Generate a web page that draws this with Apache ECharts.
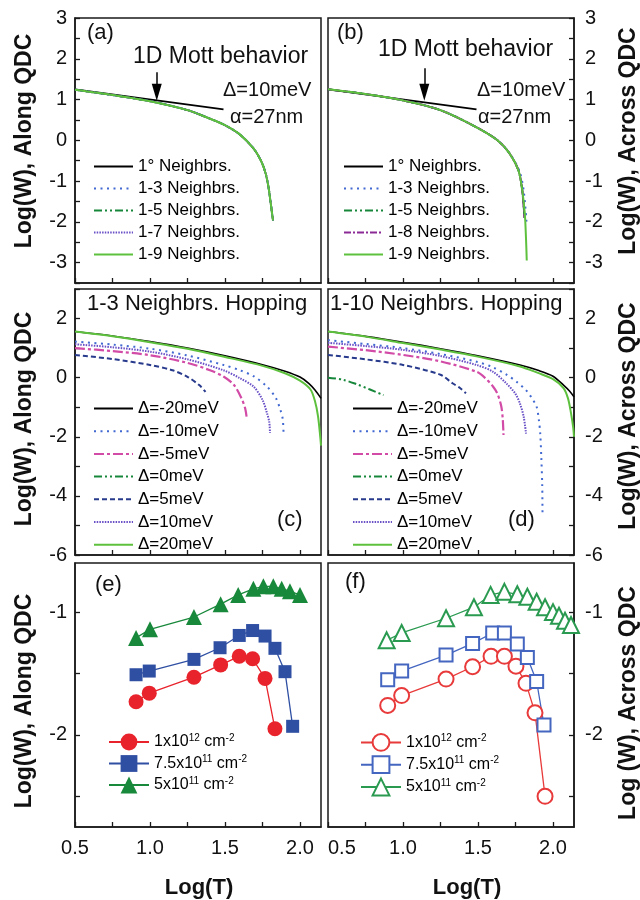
<!DOCTYPE html>
<html><head><meta charset="utf-8">
<script src="https://cdn.jsdelivr.net/npm/echarts@6/dist/echarts.min.js"></script>
<style>html,body{margin:0;padding:0;background:#fff}#c{width:640px;height:900px}</style>
</head><body><div id="c"></div>
<script>
// ================= DATA =================
// tick / label values
const xTicks = [0.5, 0.75, 1.0, 1.25, 1.5, 1.75, 2.0];
const xLabels = [0.5, 1.0, 1.5, 2.0];
const yTicksAB = [-3.5, -3, -2.5, -2, -1.5, -1, -0.5, 0, 0.5, 1, 1.5, 2, 2.5, 3];
const yLabelsAB = [-3, -2, -1, 0, 1, 2, 3];
const yTicksCD = [-6, -5, -4, -3, -2, -1, 0, 1, 2, 3];
const yLabelsCD = [-6, -4, -2, 0, 2];
const yTicksEF = [-2.5, -2, -1.5, -1];
const yLabelsEF = [-2, -1];

// panel (a)
const namesAB_a = ['1° Neighbrs.', '1-3 Neighbrs.', '1-5 Neighbrs.', '1-7 Neighbrs.', '1-9 Neighbrs.'];
const mottLine = [[0.5, 1.25], [1.49, 0.76]];
const arrowA = [[1.045, 1.67], [1.045, 1.18]];
const a_curve = [[0.5,1.24],[0.75,1.11],[1.0,0.96],[1.25,0.74],[1.4,0.53],[1.5,0.37],[1.6,0.14],[1.69,-0.2],[1.74,-0.5],[1.77,-0.8],[1.79,-1.15],[1.805,-1.55],[1.82,-1.97]];

// panel (b)
const namesAB_b = ['1° Neighbrs.', '1-3 Neighbrs.', '1-5 Neighbrs.', '1-8 Neighbrs.', '1-9 Neighbrs.'];
const arrowB = [[1.142, 1.77], [1.142, 1.18]];
const b_n1 = [[0.5,1.25],[0.76,1.13],[1.0,0.98],[1.25,0.74],[1.49,0.32],[1.63,0.0],[1.71,-0.32],[1.77,-0.74],[1.795,-1.23],[1.81,-1.9]];
const b_n3 = [[0.5,1.25],[0.76,1.13],[1.0,0.98],[1.25,0.74],[1.49,0.32],[1.63,0.0],[1.71,-0.32],[1.775,-0.74],[1.805,-1.25],[1.825,-2.1]];
const b_n9 = [[0.5,1.25],[0.76,1.13],[1.0,0.98],[1.25,0.74],[1.49,0.32],[1.63,0.0],[1.71,-0.32],[1.77,-0.74],[1.795,-1.23],[1.812,-1.8],[1.82,-2.4],[1.825,-2.95]];

// panels (c) and (d)
const namesCD = ['Δ=-20meV', 'Δ=-10meV', 'Δ=-5meV', 'Δ=0meV', 'Δ=5meV', 'Δ=10meV', 'Δ=20meV'];
const c_m20 = [[0.5,1.56],[0.75,1.41],[1.0,1.22],[1.25,1.0],[1.5,0.74],[1.75,0.44],[1.9,0.22],[2.0,0.02],[2.06,-0.2],[2.1,-0.42],[2.14,-0.7]];
const c_m10 = [[0.5,1.22],[0.75,1.12],[1.0,0.98],[1.25,0.75],[1.49,0.43],[1.6,0.25],[1.69,0.05],[1.78,-0.3],[1.84,-0.7],[1.87,-1.1],[1.885,-1.4],[1.89,-1.84]];
const c_m5 = [[0.5,1.0],[0.75,0.9],[1.0,0.76],[1.25,0.5],[1.4,0.25],[1.49,0.04],[1.56,-0.25],[1.61,-0.7],[1.635,-1.05],[1.645,-1.37]];
const c_0 = [];
const c_p5 = [[0.5,0.77],[0.75,0.63],[1.0,0.43],[1.15,0.25],[1.25,0.03],[1.33,-0.26],[1.37,-0.48]];
const c_p10 = [[0.5,1.13],[0.75,1.03],[1.0,0.88],[1.25,0.62],[1.49,0.25],[1.6,-0.02],[1.69,-0.3],[1.75,-0.75],[1.78,-1.2],[1.795,-1.5],[1.8,-1.87]];
const c_p20 = [[0.5,1.56],[0.75,1.4],[1.0,1.2],[1.25,0.98],[1.5,0.7],[1.75,0.4],[1.9,0.15],[2.0,-0.1],[2.07,-0.4],[2.1,-0.8],[2.12,-1.3],[2.135,-2.0],[2.14,-2.3]];

const d_m20 = [[0.5,1.56],[0.76,1.39],[1.0,1.2],[1.25,0.98],[1.49,0.75],[1.78,0.43],[1.9,0.25],[2.0,0.05],[2.07,-0.25],[2.11,-0.45],[2.14,-0.65]];
const d_m10 = [[0.5,1.27],[0.75,1.14],[1.0,1.0],[1.25,0.8],[1.49,0.54],[1.6,0.35],[1.69,0.1],[1.76,-0.15],[1.82,-0.42],[1.86,-0.7],[1.89,-0.97],[1.905,-1.4],[1.915,-1.9],[1.922,-2.7],[1.928,-3.6],[1.93,-4.6]];
const d_m5 = [[0.5,1.05],[0.75,0.93],[1.0,0.77],[1.25,0.55],[1.49,0.2],[1.55,-0.02],[1.6,-0.3],[1.63,-0.55],[1.655,-0.97],[1.665,-1.4],[1.67,-1.94]];
const d_0 = [[0.5,0.0],[0.6,-0.07],[0.69,-0.22],[0.78,-0.4],[0.87,-0.59]];
const d_p5 = [[0.5,0.77],[0.75,0.62],[1.0,0.43],[1.25,0.1],[1.33,-0.19],[1.38,-0.35],[1.42,-0.53]];
const d_p10 = [[0.5,1.18],[0.75,1.07],[1.0,0.94],[1.25,0.73],[1.49,0.43],[1.6,0.2],[1.69,-0.2],[1.75,-0.55],[1.78,-0.88],[1.805,-1.33],[1.82,-1.89]];
const d_p20 = [[0.5,1.56],[0.76,1.38],[1.0,1.17],[1.25,0.95],[1.49,0.72],[1.78,0.38],[1.9,0.16],[2.0,-0.05],[2.07,-0.35],[2.1,-0.7],[2.12,-1.2],[2.135,-1.7],[2.14,-2.0]];

// panels (e) and (f)
const namesEF = ['1x10^12 cm^-2', '7.5x10^11 cm^-2', '5x10^11 cm^-2'];
const e_red = [[0.907,-1.73],[0.995,-1.66],[1.293,-1.53],[1.471,-1.43],[1.595,-1.36],[1.684,-1.38],[1.767,-1.54],[1.833,-1.95]];
const e_blue = [[0.907,-1.51],[0.995,-1.48],[1.293,-1.385],[1.467,-1.29],[1.595,-1.19],[1.684,-1.15],[1.767,-1.195],[1.833,-1.295],[1.9,-1.485],[1.951,-1.93]];
const e_green = [[0.907,-1.21],[1.0,-1.14],[1.293,-1.04],[1.471,-0.935],[1.588,-0.86],[1.689,-0.81],[1.756,-0.79],[1.822,-0.79],[1.878,-0.81],[1.933,-0.83],[2.0,-0.86]];
const f_red = [[0.898,-1.76],[0.991,-1.68],[1.287,-1.545],[1.464,-1.445],[1.587,-1.36],[1.676,-1.36],[1.753,-1.44],[1.82,-1.58],[1.88,-1.82],[1.947,-2.5]];
const f_blue = [[0.898,-1.55],[0.991,-1.48],[1.287,-1.35],[1.464,-1.255],[1.598,-1.17],[1.676,-1.17],[1.762,-1.26],[1.829,-1.37],[1.891,-1.565],[1.94,-1.92]];
const f_green = [[0.891,-1.23],[0.991,-1.17],[1.287,-1.05],[1.473,-0.96],[1.584,-0.86],[1.676,-0.835],[1.762,-0.855],[1.829,-0.875],[1.891,-0.915],[1.947,-0.96],[2.0,-1.0],[2.04,-1.03],[2.08,-1.07],[2.12,-1.105],[2.15,-1.14]];

// ================= CHART =================
const FONT = '"Liberation Sans", Arial, Helvetica, sans-serif';
const chart = echarts.init(document.getElementById('c'), null, {renderer: 'canvas', width: 640, height: 900});

const GRIDS = [
  {left: 75, top: 18, width: 246, height: 265},
  {left: 328, top: 18, width: 246, height: 265},
  {left: 75, top: 289, width: 246, height: 266},
  {left: 328, top: 289, width: 246, height: 266},
  {left: 75, top: 563, width: 246, height: 264},
  {left: 328, top: 563, width: 246, height: 264}
];
const YR = [[-3.5, 3], [-3.5, 3], [-6, 3], [-6, 3], [-2.75, -0.6], [-2.75, -0.6]];
const YT = [yTicksAB, yTicksAB, yTicksCD, yTicksCD, yTicksEF, yTicksEF];
const YL = [yLabelsAB, yLabelsAB, yLabelsCD, yLabelsCD, yLabelsEF, yLabelsEF];

const AX = '#1a1a1a';
const grid = GRIDS.map(g => Object.assign({show: true, borderColor: AX, borderWidth: 1.5, backgroundColor: 'transparent', containLabel: false}, g));
const xAxis = GRIDS.map((g, i) => ({
  type: 'value', gridIndex: i, min: 0.5, max: 2.14,
  axisLine: {show: true, onZero: false, lineStyle: {color: AX, width: 1.5}},
  axisTick: {show: true, inside: true, length: 5, customValues: xTicks, lineStyle: {color: AX, width: 1.3}},
  axisLabel: i >= 4 ? {show: true, customValues: xLabels, formatter: v => v.toFixed(1), fontSize: 20, color: '#111', margin: 11, fontFamily: FONT, alignMinLabel: i === 5 ? 'left' : 'center'} : {show: false},
  splitLine: {show: false}
}));
const yAxis = GRIDS.map((g, i) => ({
  type: 'value', gridIndex: i, min: YR[i][0], max: YR[i][1],
  position: i % 2 === 0 ? 'left' : 'right',
  axisLine: {show: true, onZero: false, lineStyle: {color: AX, width: 1.5}},
  axisTick: {show: true, inside: true, length: 5, customValues: YT[i], lineStyle: {color: AX, width: 1.3}},
  axisLabel: {show: true, customValues: YL[i], fontSize: 20, color: '#111', margin: i % 2 === 0 ? 8 : 11, fontFamily: FONT},
  splitLine: {show: false}
}));

const ST = {
  black: {color: '#000000', width: 1.6, type: 'solid'},
  blueDot: {color: '#4169d1', width: 2, type: [2, 4.5]},
  greenDDD: {color: '#16873a', width: 2, type: [8, 3, 2, 3, 2, 3]},
  purpleDot: {color: '#6a50c6', width: 2, type: [1.5, 1.2]},
  purpleDD: {color: '#8b2a95', width: 2, type: [7, 2, 2, 2]},
  magentaDD: {color: '#d24ba6', width: 2.2, type: [10, 3, 3, 3]},
  navyDash: {color: '#283a8c', width: 2, type: [5, 3]},
  lgreen: {color: '#5ec13e', width: 2, type: 'solid'}
};

function curve(name, data, gi, st) {
  return {type: 'line', name: name, data: data, xAxisIndex: gi, yAxisIndex: gi,
    symbol: 'none', showSymbol: false, smooth: 0.3, clip: true,
    lineStyle: {color: st.color, width: st.width, type: st.type},
    itemStyle: {color: st.color}, emphasis: {disabled: true}};
}
function mott(gi, arrow) {
  return {type: 'line', name: 'mott' + gi, data: mottLine, xAxisIndex: gi, yAxisIndex: gi,
    symbol: 'none', showSymbol: false, lineStyle: {color: '#000', width: 1.8}, emphasis: {disabled: true},
    markLine: {silent: true, animation: false, symbol: ['none', 'triangle'], symbolSize: [10, 17],
      lineStyle: {color: '#000', width: 1.5, type: 'solid'}, label: {show: false}, emphasis: {disabled: true},
      data: [[{coord: arrow[0]}, {coord: arrow[1]}]]}};
}
function marks(name, data, gi, sym, size, color, hollow) {
  return {type: 'line', name: name, data: data, xAxisIndex: gi, yAxisIndex: gi,
    symbol: sym, symbolSize: size, showSymbol: true, clip: true,
    lineStyle: {color: color, width: 1.3},
    itemStyle: hollow ? {color: color, borderColor: color, borderWidth: 1.3} : {color: color, borderWidth: 0},
    emphasis: {disabled: true}};
}

const abStyles_a = [ST.black, ST.blueDot, ST.greenDDD, ST.purpleDot, ST.lgreen];
const abStyles_b = [ST.black, ST.blueDot, ST.greenDDD, ST.purpleDD, ST.lgreen];
const cdStyles = [ST.black, ST.blueDot, ST.magentaDD, ST.greenDDD, ST.navyDash, ST.purpleDot, ST.lgreen];
const aData = [a_curve, a_curve, a_curve, a_curve, a_curve];
const bData = [b_n1, b_n3, b_n1, b_n1, b_n9];
const cData = [c_m20, c_m10, c_m5, c_0, c_p5, c_p10, c_p20];
const dData = [d_m20, d_m10, d_m5, d_0, d_p5, d_p10, d_p20];
const fNames = namesEF.map(n => n + '\u200b');

const series = [];
series.push(mott(0, arrowA));
namesAB_a.forEach((n, k) => series.push(curve(n, aData[k], 0, abStyles_a[k])));
series.push(mott(1, arrowB));
namesAB_b.forEach((n, k) => series.push(curve(n, bData[k], 1, abStyles_b[k])));
namesCD.forEach((n, k) => series.push(curve(n, cData[k], 2, cdStyles[k])));
namesCD.forEach((n, k) => series.push(curve(n, dData[k], 3, cdStyles[k])));
series.push(marks(namesEF[0], e_red, 4, 'circle', 15, '#e8232b', false));
series.push(marks(namesEF[1], e_blue, 4, 'rect', 13, '#2f4fa3', false));
series.push(marks(namesEF[2], e_green, 4, 'triangle', 16, '#18883a', false));
series.push(marks(fNames[0], f_red, 5, 'emptyCircle', 15, '#e83a3a', true));
series.push(marks(fNames[1], f_blue, 5, 'emptyRect', 13, '#4466c0', true));
series.push(marks(fNames[2], f_green, 5, 'emptyTriangle', 16, '#2a9a50', true));

function lg(names, left, top, gap, opts) {
  return Object.assign({orient: 'vertical', left: left, top: top, padding: 0, itemGap: gap,
    itemWidth: 39, itemHeight: 14, data: names, selectedMode: false,
    itemStyle: {color: 'rgba(0,0,0,0)', borderWidth: 0, opacity: 0},
    textStyle: {fontSize: 17, color: '#000', lineHeight: 16, fontFamily: FONT}}, opts || {});
}
const supFmt = n => n.replace(/\^(-?\d+)/g, '{sup|$1}');
const efText = {fontSize: 16, color: '#000', lineHeight: 18, fontFamily: FONT,
  rich: {sup: {fontSize: 10, verticalAlign: 'top', lineHeight: 18, fontFamily: FONT, color: '#000'}}};
const efLegendOpts = {itemWidth: 40, itemHeight: 21, formatter: supFmt, textStyle: efText, itemStyle: {}};
const legend = [
  lg(namesAB_a, 93, 158, 5),
  lg(namesAB_b, 343, 158, 5),
  lg(namesCD, 93, 400, 5.7),
  lg(namesCD, 352, 400, 5.7),
  lg(namesEF, 108, 733, 3.5, efLegendOpts),
  lg(fNames, 360, 733, 3.5, efLegendOpts)
];

function txt(s, x, y, size, opt) {
  return Object.assign({type: 'text', x: x, y: y, silent: true,
    style: Object.assign({text: s, fontSize: size, fontFamily: FONT, fill: '#111', align: 'left', verticalAlign: 'middle'}, (opt && opt.style) || {})},
    opt && opt.rotation !== undefined ? {rotation: opt.rotation} : {});
}
const R = Math.PI / 2;
const graphic = [
  txt('(a)', 87, 33, 22), txt('1D Mott behavior', 133, 57, 23), txt('Δ=10meV', 223, 90, 20), txt('α=27nm', 230, 117, 20),
  txt('(b)', 337, 33, 22), txt('1D Mott behavior', 378, 50, 23), txt('Δ=10meV', 477, 90, 20), txt('α=27nm', 478, 117, 20),
  txt('1-3 Neighbrs. Hopping', 87, 304, 22), txt('(c)', 277, 520, 22),
  txt('1-10 Neighbrs. Hopping', 330, 304, 22), txt('(d)', 508, 520, 22),
  txt('(e)', 95, 585, 22), txt('(f)', 345, 582, 22),
  txt('Log(W), Along QDC', 25, 141, 23, {rotation: R, style: {align: 'center', fontWeight: 'bold'}}),
  txt('Log(W), Along QDC', 25, 419, 23, {rotation: R, style: {align: 'center', fontWeight: 'bold'}}),
  txt('Log(W), Along QDC', 25, 701, 23, {rotation: R, style: {align: 'center', fontWeight: 'bold'}}),
  txt('Log(W), Across QDC', 629, 141, 23, {rotation: R, style: {align: 'center', fontWeight: 'bold'}}),
  txt('Log(W), Across QDC', 629, 416, 23, {rotation: R, style: {align: 'center', fontWeight: 'bold'}}),
  txt('Log (W), Across QDC', 629, 703, 23, {rotation: R, style: {align: 'center', fontWeight: 'bold'}}),
  txt('Log(T)', 199, 888, 22, {style: {align: 'center', fontWeight: 'bold'}}),
  txt('Log(T)', 467, 888, 22, {style: {align: 'center', fontWeight: 'bold'}})
];

chart.setOption({
  animation: false,
  backgroundColor: '#ffffff',
  textStyle: {fontFamily: FONT},
  grid: grid, xAxis: xAxis, yAxis: yAxis, legend: legend, series: series, graphic: graphic
});
</script></body></html>
